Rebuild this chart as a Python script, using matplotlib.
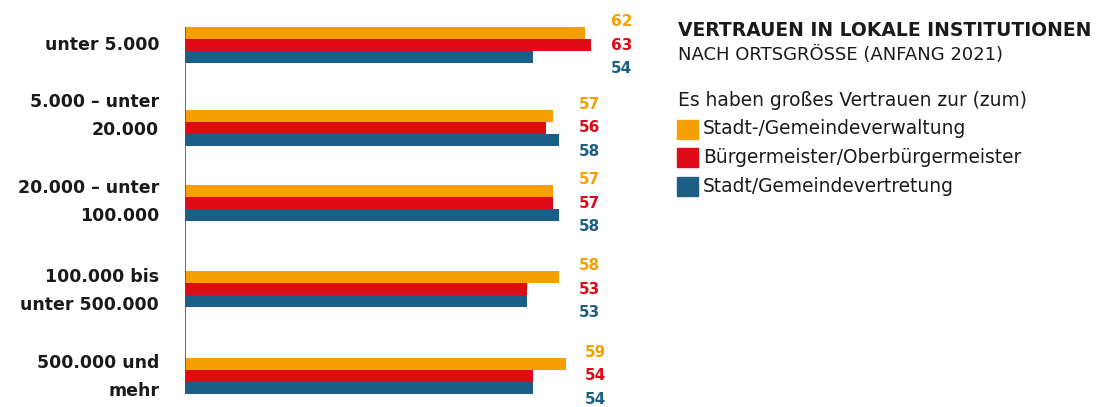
import numpy as np
import matplotlib.pyplot as plt

categories = ['unter 5.000', '5.000 – unter\n20.000', '20.000 – unter\n100.000',
              '100.000 bis\nunter 500.000', '500.000 und\nmehr']
verwaltung = [62, 57, 57, 58, 59]
buergermeister = [63, 56, 57, 53, 54]
vertretung = [54, 58, 58, 53, 54]
series_names = ['Stadt-/Gemeindeverwaltung', 'Bürgermeister/Oberbürgermeister',
                'Stadt/Gemeindevertretung']
colors = ['#F5A000', '#DF0A17', '#1C5F86']

W, H = 1120, 407
fig = plt.figure(figsize=(W / 100, H / 100), dpi=100)
plt.rcParams['font.family'] = ['DejaVu Sans']

# layout (pixels from top): group centres and label centres
group_y = [45, 128, 203, 289, 376]
label_y = [45, 116, 202, 291, 377]
bh = 12.3

x0, px_unit = 185, 6.45
ax_right = 640
ax = fig.add_axes([x0 / W, 0, (ax_right - x0) / W, 1])
ax.set_xlim(0, (ax_right - x0) / px_unit)
ax.set_ylim(H, 0)

gy = np.array(group_y, dtype=float)
data = [verwaltung, buergermeister, vertretung]
for k, (vals, c) in enumerate(zip(data, colors)):
    ax.barh(gy + (k - 1) * bh, vals, height=bh, color=c, edgecolor='none')

for i in range(len(categories)):
    m = max(d[i] for d in data)
    for k, (vals, c) in enumerate(zip(data, colors)):
        ax.text(m + 3.0, gy[i] + (k - 1) * 23.3, str(vals[i]), color=c,
                fontsize=11, fontweight='bold', ha='left', va='center')

for cat, ly in zip(categories, label_y):
    ax.text(-4.0, ly, cat, ha='right', va='center', fontsize=12.5,
            fontweight='bold', color='#1a1a1a', linespacing=1.75)

ax.vlines(0, gy[0] - 1.5 * bh, gy[-1] + 1.5 * bh, color='#555555', linewidth=1.2)
ax.axis('off')

# title and legend
tx = 678 / W
fig.text(tx, 1 - 31 / H, 'VERTRAUEN IN LOKALE INSTITUTIONEN', fontsize=13.5,
         fontweight='bold', va='center', color='#1a1a1a')
fig.text(tx, 1 - 55 / H, 'NACH ORTSGRÖSSE (ANFANG 2021)', fontsize=13,
         va='center', color='#1a1a1a')
fig.text(tx, 1 - 101 / H, 'Es haben großes Vertrauen zur (zum)', fontsize=13.4,
         va='center', color='#1a1a1a')
for k, (name, c) in enumerate(zip(series_names, colors)):
    yc = 129 + k * 28.5
    fig.patches.append(plt.Rectangle((677 / W, 1 - (yc + 9.5) / H), 21 / W, 19 / H,
                                     transform=fig.transFigure, color=c))
    fig.text(703 / W, 1 - yc / H, name, fontsize=13.4, va='center', color='#1a1a1a')

fig.savefig('out.png', dpi=100)
